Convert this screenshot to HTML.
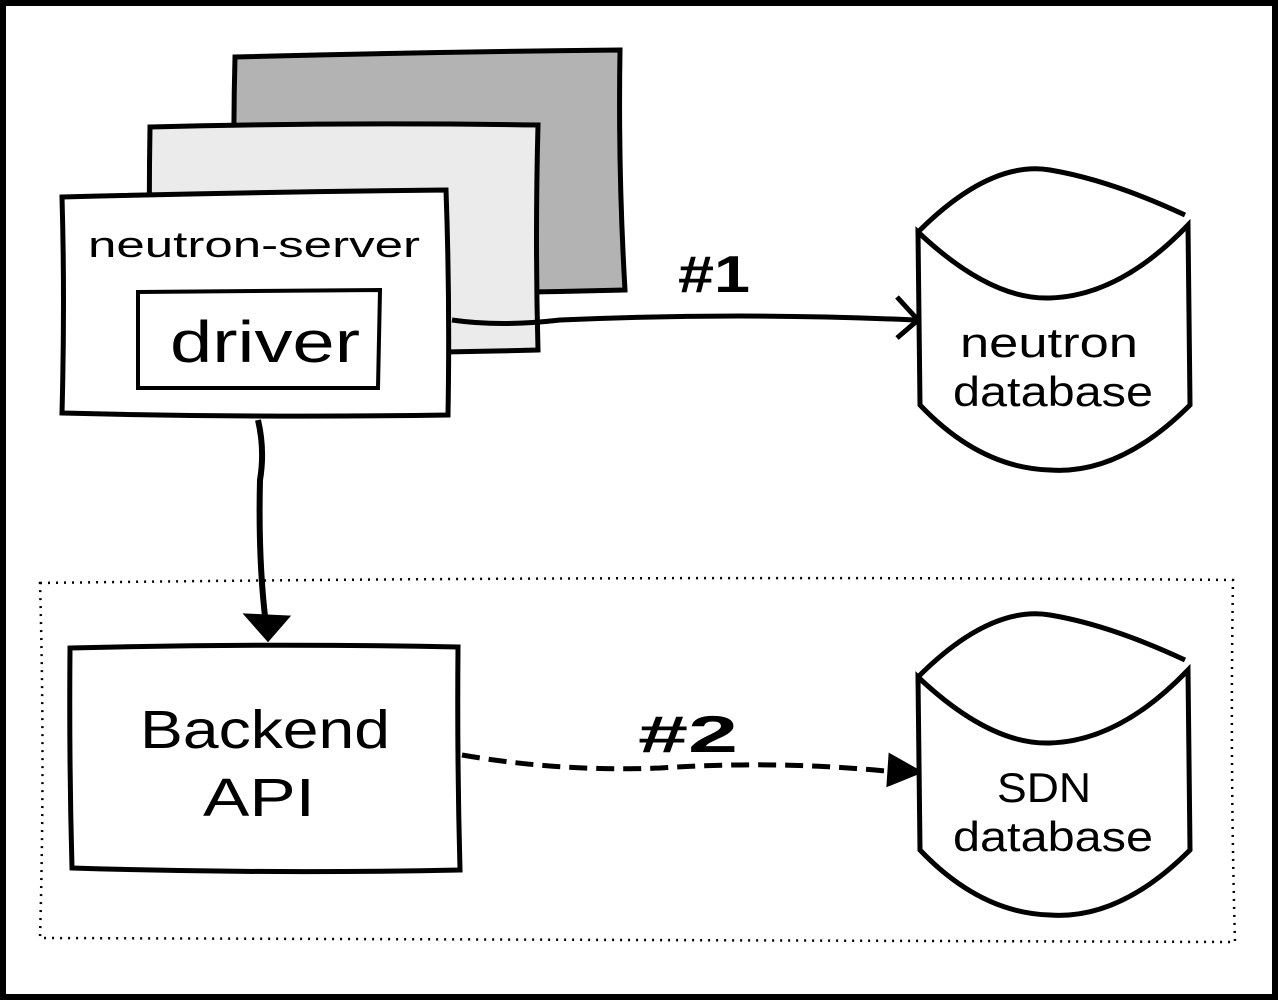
<!DOCTYPE html>
<html><head><meta charset="utf-8"><style>
html,body{margin:0;padding:0;background:#fff;}
svg{display:block;}
text{font-family:"Liberation Sans","DejaVu Sans",sans-serif;fill:#000;}
</style></head><body>
<svg width="1278" height="1000" viewBox="0 0 1278 1000" xmlns="http://www.w3.org/2000/svg">
<rect x="3" y="3" width="1272" height="994" fill="#fff" stroke="#000" stroke-width="6"/>
<path d="M235,57 Q430,52 620,50 Q618,170 625,290 Q430,295 237,293 Q232,170 235,57Z" fill="#b3b3b3" stroke="#000" stroke-width="5"/>
<path d="M150,127 Q345,122 538,125 Q535,240 538,350 Q345,355 152,352 Q148,240 150,127Z" fill="#ebebeb" stroke="#000" stroke-width="5"/>
<path d="M62,197 Q255,192 446,190 Q450,300 448,415 Q255,418 62,413 Q65,300 62,197Z" fill="#fff" stroke="#000" stroke-width="5"/>
<path d="M138,292 L380,290 L378,388 L138,388Z" fill="#fff" stroke="#000" stroke-width="4"/>
<text x="88" y="257" font-size="36" textLength="332" lengthAdjust="spacingAndGlyphs">neutron-server</text>
<text x="170" y="362" font-size="58" textLength="190" lengthAdjust="spacingAndGlyphs">driver</text>
<path d="M452,320 Q500,327 560,320 Q740,312 915,320" fill="none" stroke="#000" stroke-width="5"/>
<path d="M897,297 L918,320 L897,338" fill="none" stroke="#000" stroke-width="5"/>
<text x="678" y="292" font-size="52" font-weight="bold" textLength="72" lengthAdjust="spacingAndGlyphs">#1</text>
<path d="M918,232 Q990,160 1050,170 Q1110,180 1185,215" fill="none" stroke="#000" stroke-width="5"/>
<path d="M918,232 Q990,300 1050,298 Q1120,296 1188,225 L1190,405 Q1120,475 1050,470 Q980,468 920,405 Z" fill="#fff" stroke="#000" stroke-width="5"/>
<text x="960" y="357" font-size="42" textLength="178" lengthAdjust="spacingAndGlyphs">neutron</text>
<text x="953" y="406" font-size="42" textLength="200" lengthAdjust="spacingAndGlyphs">database</text>
<path d="M258,420 Q265,450 260,480 Q258,560 266,625" fill="none" stroke="#000" stroke-width="6"/>
<path d="M246,615 L288,617 L268,640Z" fill="#000" stroke="#000" stroke-width="3"/>
<path d="M40,583 Q640,575 1233,580 Q1230,760 1235,942 Q640,940 40,938 Q45,760 40,583Z" fill="none" stroke="#000" stroke-width="2.5" stroke-dasharray="2,6"/>
<path d="M70,648 Q265,643 458,647 Q457,760 460,870 Q265,874 72,868 Q69,760 70,648Z" fill="#fff" stroke="#000" stroke-width="5"/>
<text x="140" y="748" font-size="54" textLength="250" lengthAdjust="spacingAndGlyphs">Backend</text>
<text x="203" y="816" font-size="54" textLength="112" lengthAdjust="spacingAndGlyphs">API</text>
<path d="M462,755 Q560,772 660,768 Q780,760 895,772" fill="none" stroke="#000" stroke-width="5" stroke-dasharray="18,9"/>
<path d="M890,755 L920,772 L888,785Z" fill="#000" stroke="#000" stroke-width="3"/>
<text x="638" y="752" font-size="52" font-weight="bold" textLength="100" lengthAdjust="spacingAndGlyphs">#2</text>
<path d="M918,677 Q990,605 1050,615 Q1110,625 1185,660" fill="none" stroke="#000" stroke-width="5"/>
<path d="M918,677 Q990,745 1050,743 Q1120,741 1188,670 L1190,850 Q1120,920 1050,915 Q980,913 920,850 Z" fill="#fff" stroke="#000" stroke-width="5"/>
<text x="997" y="802" font-size="42" textLength="94" lengthAdjust="spacingAndGlyphs">SDN</text>
<text x="953" y="851" font-size="42" textLength="200" lengthAdjust="spacingAndGlyphs">database</text>
</svg>
</body></html>
